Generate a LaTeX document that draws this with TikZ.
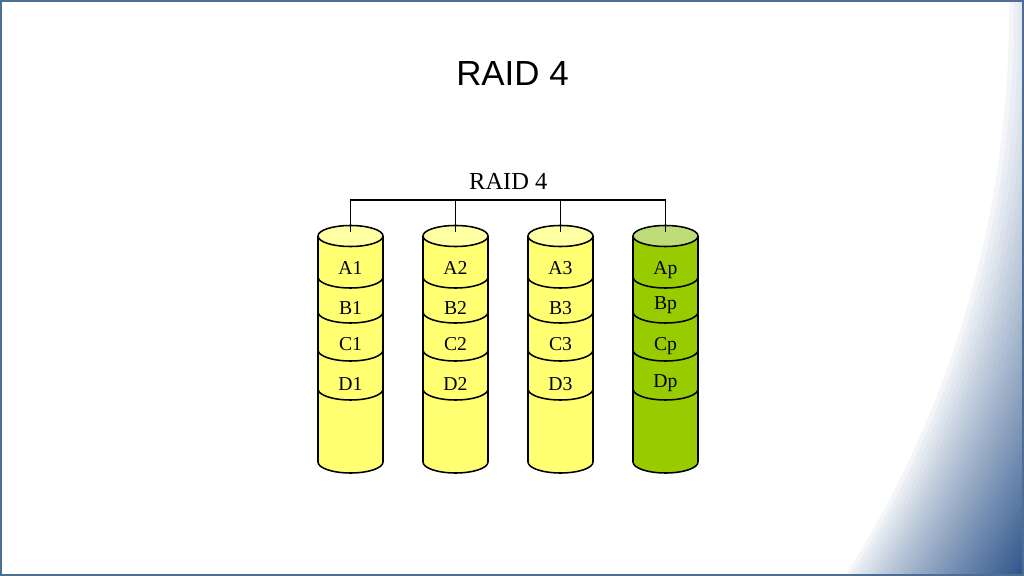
\documentclass[tikz,border=0pt]{standalone}
\usepackage{fontspec}
\setmainfont{Liberation Serif}
\newfontfamily\titlefont{Liberation Sans}

\definecolor{slideblue}{HTML}{2A5289}
\definecolor{framecol}{HTML}{4D6D93}
\definecolor{diskbody}{HTML}{FFFF71}
\definecolor{disktop}{HTML}{FFFFA3}
\definecolor{paritybody}{HTML}{99CC00}
\definecolor{paritytop}{HTML}{C0DC78}

\tikzset{
  disk/.style={draw=black, line width=1.1pt},
  bus/.style={draw=black, line width=1.4pt},
  blocklabel/.style={font=\fontsize{14}{14}\selectfont, anchor=base, inner sep=0pt},
}

% disk number, x centre, body colour, top colour
\newcommand{\raiddisk}[4]{
  \filldraw[disk, fill=#3] (#2-32.5,236) -- (#2-32.5,462)
    arc[start angle=180, end angle=0, x radius=32.5, y radius=11] -- (#2+32.5,236);
  \filldraw[disk, fill=#4] (#2,236) ellipse[x radius=32.5, y radius=10.5];
  \foreach \ys in {277,312,350,389}
    \draw[disk] (#2-32.5,\ys) arc[start angle=180, end angle=0, x radius=32.5, y radius=11];
  \coordinate (top#1) at (#2,232);
}

\begin{document}
\begin{tikzpicture}[x=0.025cm, y=-0.025cm]
  \useasboundingbox (0,0) rectangle (1024,576);

  % slide background
  \begin{scope}
    \clip (0,0) rectangle (1024,576);
    \foreach \s in {0,5,...,190} {
      \pgfmathsetmacro\p{min(100,100*(\s/184)^0.8)}
      \fill[slideblue!\p, even odd rule] (-20,-20) rectangle (1044,596)
        (-44+\s,13) circle[radius=1048];
    }
  \end{scope}
  \draw[framecol, line width=1.4pt] (0.9,0.9) rectangle (1023.1,575.1);

  \node[font=\titlefont\fontsize{24.8}{24.8}\selectfont, anchor=base] (title) at (512.5,86) {RAID 4};

  % disks
  \raiddisk{1}{350.5}{diskbody}{disktop}
  \raiddisk{2}{455.5}{diskbody}{disktop}
  \raiddisk{3}{560.5}{diskbody}{disktop}
  \raiddisk{4}{665.5}{paritybody}{paritytop}

  \foreach \n/\x in {1/350.5,2/455.5,3/560.5} {
    \node[blocklabel] (a\n) at (\x,275) {A\n};
    \node[blocklabel] (b\n) at (\x,315) {B\n};
    \node[blocklabel] (c\n) at (\x,350) {C\n};
    \node[blocklabel] (d\n) at (\x,390) {D\n};
  }
  \node[blocklabel] (ap) at (665.5,275) {Ap};
  \node[blocklabel] (bp) at (665.5,310) {Bp};
  \node[blocklabel] (cp) at (665.5,350) {Cp};
  \node[blocklabel] (dp) at (665.5,387) {Dp};

  % array bracket
  \node[font=\fontsize{17.4}{17.4}\selectfont, anchor=base] (raid) at (508.3,189.3) {RAID 4};
  \coordinate (busline) at (0,200);
  \draw[bus] (top1) -- (top1 |- busline) -- (top4 |- busline) -- (top4);
  \draw[bus] (top2) -- (top2 |- busline);
  \draw[bus] (top3) -- (top3 |- busline);
\end{tikzpicture}
\end{document}
